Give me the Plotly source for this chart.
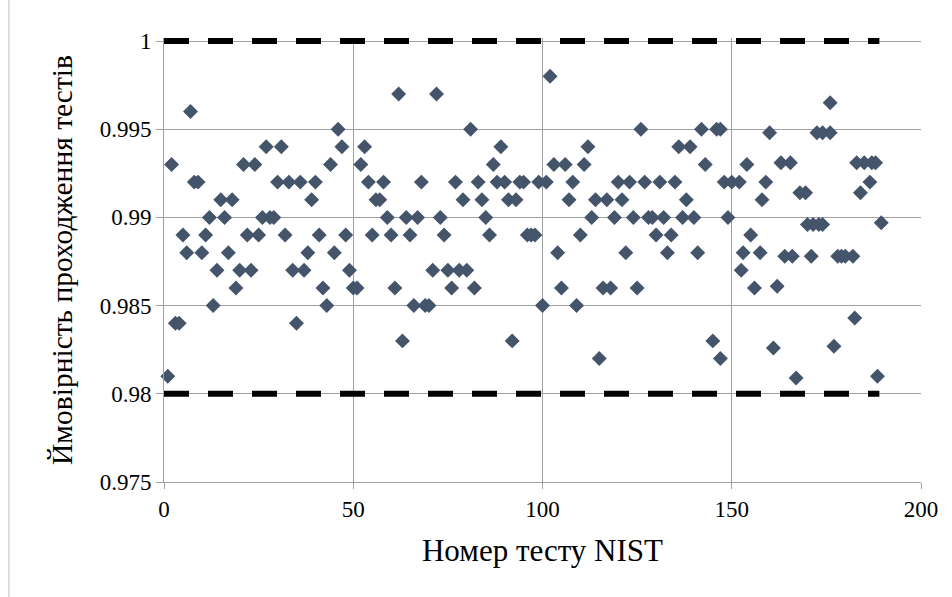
import plotly.graph_objects as go

# ---- data ----
test_no = [
    1, 2, 3, 4, 5, 6, 7, 8, 9, 10,
    11, 12, 13, 14, 15, 16, 17, 18, 19, 20,
    21, 22, 23, 24, 25, 26, 27, 28, 29, 30,
    31, 32, 33, 34, 35, 36, 37, 38, 39, 40,
    41, 42, 43, 44, 45, 46, 47, 48, 49, 50,
    51, 52, 53, 54, 55, 56, 57, 58, 59, 60,
    61, 62, 63, 64, 65, 66, 67, 68, 69, 70,
    71, 72, 73, 74, 75, 76, 77, 78, 79, 80,
    81, 82, 83, 84, 85, 86, 87, 88, 89, 90,
    91, 92, 93, 94, 95, 96, 97, 98, 99, 100,
    101, 102, 103, 104, 105, 106, 107, 108, 109, 110,
    111, 112, 113, 114, 115, 116, 117, 118, 119, 120,
    121, 122, 123, 124, 125, 126, 127, 128, 129, 130,
    131, 132, 133, 134, 135, 136, 137, 138, 139, 140,
    141, 142, 143, 145, 146, 147, 147, 148, 149, 150,
    152, 152.5, 153, 154, 155, 156, 157.5, 158, 159, 160,
    161, 162, 163, 164, 165.5, 166, 167, 168, 169.5, 170,
    171, 171.5, 173, 172.5, 174, 174, 176, 176, 177, 178,
    179, 180, 182, 182.5, 183, 184, 185, 186.5, 187, 188,
    188.5, 189.5,
]
prob = [
    0.981, 0.993, 0.984, 0.984, 0.989, 0.988, 0.996, 0.992, 0.992, 0.988,
    0.989, 0.990, 0.985, 0.987, 0.991, 0.990, 0.988, 0.991, 0.986, 0.987,
    0.993, 0.989, 0.987, 0.993, 0.989, 0.990, 0.994, 0.990, 0.990, 0.992,
    0.994, 0.989, 0.992, 0.987, 0.984, 0.992, 0.987, 0.988, 0.991, 0.992,
    0.989, 0.986, 0.985, 0.993, 0.988, 0.995, 0.994, 0.989, 0.987, 0.986,
    0.986, 0.993, 0.994, 0.992, 0.989, 0.991, 0.991, 0.992, 0.990, 0.989,
    0.986, 0.997, 0.983, 0.990, 0.989, 0.985, 0.990, 0.992, 0.985, 0.985,
    0.987, 0.997, 0.990, 0.989, 0.987, 0.986, 0.992, 0.987, 0.991, 0.987,
    0.995, 0.986, 0.992, 0.991, 0.990, 0.989, 0.993, 0.992, 0.994, 0.992,
    0.991, 0.983, 0.991, 0.992, 0.992, 0.989, 0.989, 0.989, 0.992, 0.985,
    0.992, 0.998, 0.993, 0.988, 0.986, 0.993, 0.991, 0.992, 0.985, 0.989,
    0.993, 0.994, 0.990, 0.991, 0.982, 0.986, 0.991, 0.986, 0.990, 0.992,
    0.991, 0.988, 0.992, 0.990, 0.986, 0.995, 0.992, 0.990, 0.990, 0.989,
    0.992, 0.990, 0.988, 0.989, 0.992, 0.994, 0.990, 0.991, 0.994, 0.990,
    0.988, 0.995, 0.993, 0.983, 0.995, 0.995, 0.982, 0.992, 0.990, 0.992,
    0.992, 0.987, 0.988, 0.993, 0.989, 0.986, 0.988, 0.991, 0.992, 0.9948,
    0.9826, 0.9861, 0.9931, 0.9878, 0.9931, 0.9878, 0.9809, 0.9914, 0.9914, 0.9896,
    0.9878, 0.9896, 0.9896, 0.9948, 0.9896, 0.9948, 0.9948, 0.9965, 0.9827, 0.9878,
    0.9878, 0.9878, 0.9878, 0.9843, 0.9931, 0.9914, 0.9931, 0.9920, 0.9931, 0.9931,
    0.9810, 0.9897,
]

limit_x = [0, 189]
upper_limit = [1.0, 1.0]
lower_limit = [0.98, 0.98]

x_ticks = [0, 50, 100, 150, 200]
y_ticks = [0.975, 0.98, 0.985, 0.99, 0.995, 1.0]
y_tick_text = ["0.975", "0.98", "0.985", "0.99", "0.995", "1"]

x_title = "Номер тесту NIST"
y_title = "Ймовірність проходження тестів"

GRID = "#A0A0A0"
FONT = "Liberation Serif"

fig = go.Figure()

for lim in (upper_limit, lower_limit):
    fig.add_trace(go.Scatter(
        x=limit_x, y=lim, mode="lines",
        line=dict(color="black", width=6, dash="25px,19px"),
        cliponaxis=False, showlegend=False, hoverinfo="skip",
    ))

fig.add_trace(go.Scatter(
    x=test_no, y=prob, mode="markers",
    marker=dict(symbol="diamond", size=11.5, color="#44546A", line=dict(width=0)),
    cliponaxis=False, showlegend=False,
))

fig.update_layout(
    width=952, height=597,
    margin=dict(l=164, r=31, t=38, b=115),
    paper_bgcolor="white", plot_bgcolor="white",
    font=dict(family=FONT, color="black"),
    shapes=[dict(type="line", xref="paper", yref="paper",
                 x0=-0.2048, x1=-0.2048, y0=-0.27, y1=1.1,
                 line=dict(color="#BFBFBF", width=1))],
)

fig.update_xaxes(
    range=[0, 200], tickvals=x_ticks, ticktext=[str(v) for v in x_ticks],
    showgrid=True, gridcolor=GRID, gridwidth=1,
    showline=True, linecolor=GRID, linewidth=1,
    ticks="outside", ticklen=6, tickcolor=GRID,
    tickfont=dict(family=FONT, size=23, color="black"),
    zeroline=False,
    title=dict(text=x_title, font=dict(family=FONT, size=31, color="black"), standoff=18),
)
fig.update_yaxes(
    range=[0.975, 1.00017], tickvals=y_ticks, ticktext=y_tick_text,
    showgrid=True, gridcolor=GRID, gridwidth=1,
    showline=True, linecolor=GRID, linewidth=1,
    ticks="outside", ticklen=7, tickcolor=GRID,
    tickfont=dict(family=FONT, size=23, color="black"),
    zeroline=False,
    title=dict(text=y_title, font=dict(family=FONT, size=29.5, color="black"), standoff=18),
)

fig.write_html("out.html")
